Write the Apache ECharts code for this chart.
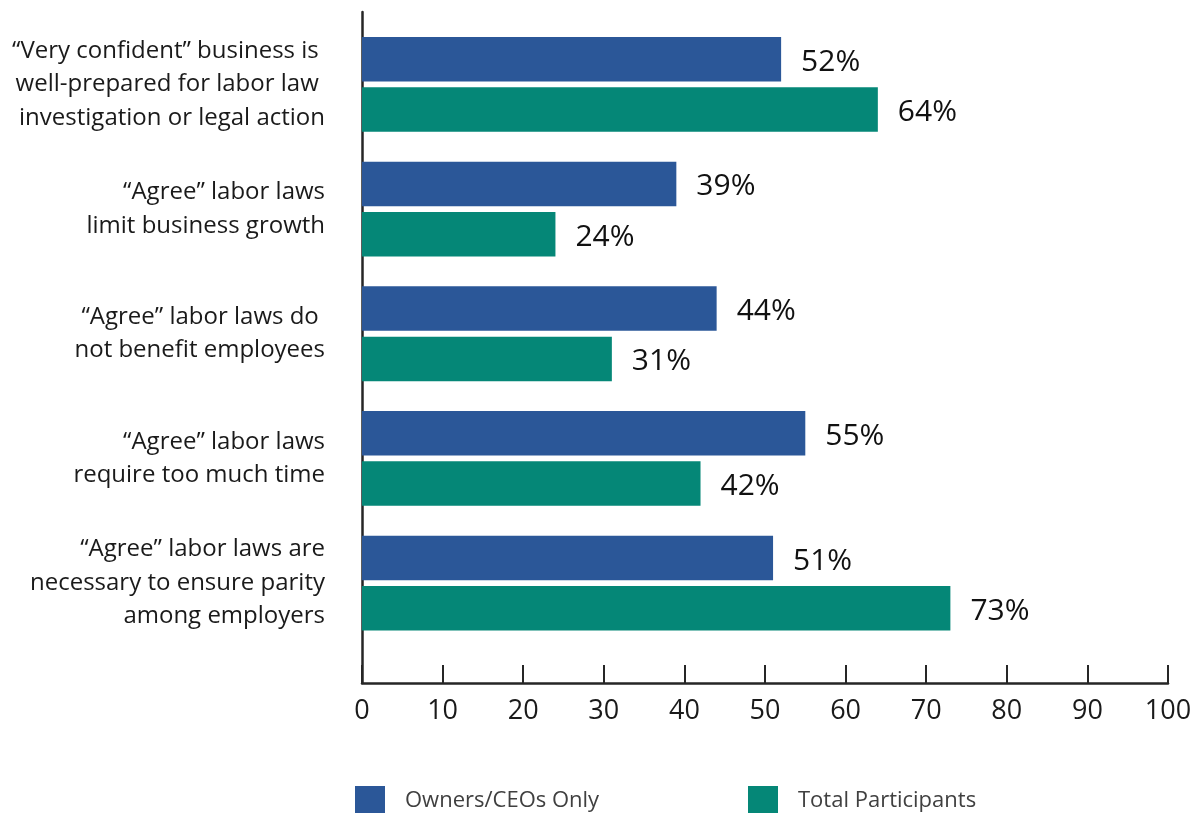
<!DOCTYPE html>
<html>
<head>
<meta charset="utf-8">
<script src="https://cdn.jsdelivr.net/npm/echarts@6/dist/echarts.min.js"></script>
<style>
  html, body { margin: 0; padding: 0; background: #ffffff; }
  #chart { width: 1197px; height: 813px; }
</style>
</head>
<body>
<div id="chart"></div>
<script>
// Survey statements, top to bottom
const categories = [
  '\u201cVery confident\u201d business is \nwell-prepared for labor law \n investigation or legal action',
  '\u201cAgree\u201d labor laws\nlimit business growth',
  '\u201cAgree\u201d labor laws do \nnot benefit employees',
  '\u201cAgree\u201d labor laws\nrequire too much time',
  '\u201cAgree\u201d labor laws are\nnecessary to ensure parity\namong employers'
];
const seriesNames = ['Owners/CEOs Only', 'Total Participants'];
const ownersValues = [52, 39, 44, 55, 51];
const totalValues = [64, 24, 31, 42, 73];
const xTicks = [0, 10, 20, 30, 40, 50, 60, 70, 80, 90, 100];

const BLUE = '#2b5798';
const GREEN = '#058777';
const INK = '#1a1a1a';
const FONT = '"Open Sans", "Noto Sans", sans-serif';

const chart = echarts.init(document.getElementById('chart'), null, { renderer: 'canvas' });

const valueLabel = {
  show: true,
  position: 'right',
  distance: 20,
  offset: [0, 3],
  formatter: p => p.value + '%',
  fontFamily: FONT,
  fontSize: 30,
  color: '#111111'
};

const legendText = { fontFamily: FONT, fontSize: 22, color: '#404040', padding: [6, 0, 0, 15] };

chart.setOption({
  backgroundColor: '#ffffff',
  animation: false,
  grid: [
    // bars
    { left: 362, right: 29, top: 22, bottom: 167.5 },
    // frame with axis lines and ticks
    { left: 362, right: 29, top: 12, bottom: 130 }
  ],
  xAxis: [
    {
      gridIndex: 0, type: 'value', min: xTicks[0], max: xTicks[xTicks.length - 1], interval: 10,
      show: false
    },
    {
      gridIndex: 1, type: 'value', min: xTicks[0], max: xTicks[xTicks.length - 1], interval: 10,
      axisLine: { show: true, lineStyle: { color: '#262626', width: 2.5 } },
      axisTick: { show: true, inside: true, length: 18, lineStyle: { color: '#262626', width: 2 } },
      splitLine: { show: false },
      axisLabel: {
        margin: 15,
        fontFamily: FONT, fontSize: 27, color: INK,
        formatter: v => (xTicks.indexOf(v) >= 0 ? String(v) : '')
      }
    }
  ],
  yAxis: [
    {
      gridIndex: 0, type: 'category', data: categories, inverse: true,
      axisLine: { show: false },
      axisTick: { show: false },
      axisLabel: {
        margin: 37,
        align: 'right',
        fontFamily: FONT, fontSize: 24, lineHeight: 33.5, color: INK
      }
    },
    {
      gridIndex: 1, type: 'value', min: 0, max: 1,
      axisLine: { show: true, lineStyle: { color: '#262626', width: 2.5 } },
      axisTick: { show: false },
      axisLabel: { show: false },
      splitLine: { show: false }
    }
  ],
  legend: [
    {
      data: [seriesNames[0]],
      left: 355, top: 786, padding: 0,
      itemWidth: 30, itemHeight: 30,
      icon: 'rect',
      textStyle: legendText
    },
    {
      data: [seriesNames[1]],
      left: 748, top: 786, padding: 0,
      itemWidth: 30, itemHeight: 30,
      icon: 'rect',
      textStyle: legendText
    }
  ],
  series: [
    {
      name: seriesNames[0], type: 'bar', xAxisIndex: 0, yAxisIndex: 0,
      data: ownersValues, barWidth: 44.5, barGap: '13%',
      itemStyle: { color: BLUE },
      label: valueLabel
    },
    {
      name: seriesNames[1], type: 'bar', xAxisIndex: 0, yAxisIndex: 0,
      data: totalValues, barWidth: 44.5, barGap: '13%',
      itemStyle: { color: GREEN },
      label: valueLabel
    }
  ]
});
</script>
</body>
</html>
